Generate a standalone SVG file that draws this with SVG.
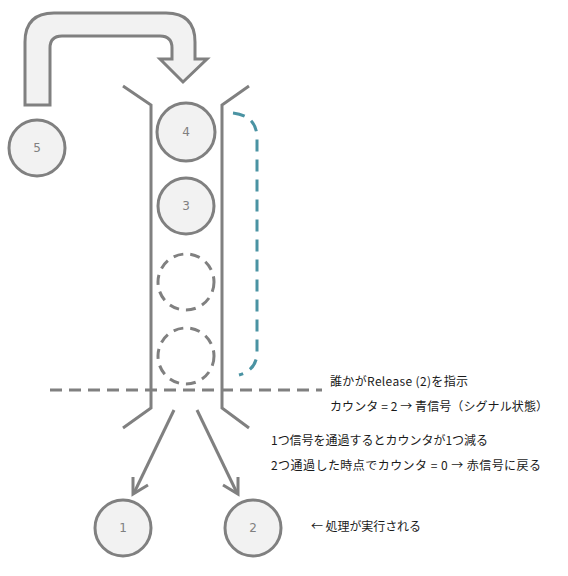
<svg xmlns="http://www.w3.org/2000/svg" width="568" height="576" viewBox="0 0 568 576">
<defs>
<style>
.ln{fill:none;stroke:#808080;stroke-width:3}
.nd{fill:#f2f2f2;stroke:#808080;stroke-width:3}
.dn{fill:none;stroke:#808080;stroke-width:3;stroke-dasharray:10 7}
.num{font-family:"DejaVu Sans","Noto Sans",sans-serif;font-size:12px;fill:#808080;text-anchor:middle}
.tx{font-family:"Noto Sans CJK JP","Noto Sans",sans-serif;font-size:12px;fill:#1a1a1a}
</style>
</defs>
<rect width="568" height="576" fill="#ffffff"/>
<g id="bigarrow">
<path class="nd" d="M25,105 V42 Q25,13 54,13 H166 Q195,13 195,42 V59 H207 L183,82 L160,59 H172 V48 Q172,36 160,36 H62 Q50,36 50,48 V105 Z"/>
</g>
<g id="tube">
<polyline class="ln" points="123,86 151,105 151,408 123,428"/>
<polyline class="ln" points="249,86 222,105 222,408 249,428"/>
</g>
<g id="connectors">
<line x1="50" y1="390" x2="322" y2="390" stroke="#808080" stroke-width="3" stroke-dasharray="12 7"/>
<path d="M233,113 Q257,116 257,138 V352 Q257,370 239,375" fill="none" stroke="#4a93a3" stroke-width="3" stroke-dasharray="12 8"/>
<line class="ln" x1="174" y1="410" x2="134" y2="493"/>
<polyline class="ln" points="133,477 133,494 148,485"/>
<line class="ln" x1="197" y1="410" x2="237" y2="493"/>
<polyline class="ln" points="223,485 238,494 238,477"/>
</g>
<g id="n5"><circle class="nd" cx="37" cy="148" r="28"/><text class="num" x="37" y="152">5</text></g>
<g id="n4"><circle class="nd" cx="186" cy="132" r="29"/><text class="num" x="186" y="136">4</text></g>
<g id="n3"><circle class="nd" cx="186" cy="206" r="28"/><text class="num" x="186" y="210">3</text></g>
<g id="empty1"><circle class="dn" cx="186" cy="282" r="28"/></g>
<g id="empty2"><circle class="dn" cx="186" cy="356" r="28"/></g>
<g id="n1"><circle class="nd" cx="123" cy="528" r="28"/><text class="num" x="123" y="532">1</text></g>
<g id="n2"><circle class="nd" cx="253" cy="528" r="28"/><text class="num" x="253" y="532">2</text></g>
<g id="labels">
<text class="tx" x="330" y="386" textLength="138" lengthAdjust="spacing">誰かがRelease (2)を指示</text>
<text class="tx" x="330" y="411" textLength="218" lengthAdjust="spacing">カウンタ = 2 → 青信号（シグナル状態）</text>
<text class="tx" x="271" y="445" textLength="217" lengthAdjust="spacing">1つ信号を通過するとカウンタが1つ減る</text>
<text class="tx" x="271" y="470" textLength="270" lengthAdjust="spacing">2つ通過した時点でカウンタ = 0 → 赤信号に戻る</text>
<text class="tx" x="311" y="531" textLength="110" lengthAdjust="spacing">← 処理が実行される</text>
</g>
</svg>
